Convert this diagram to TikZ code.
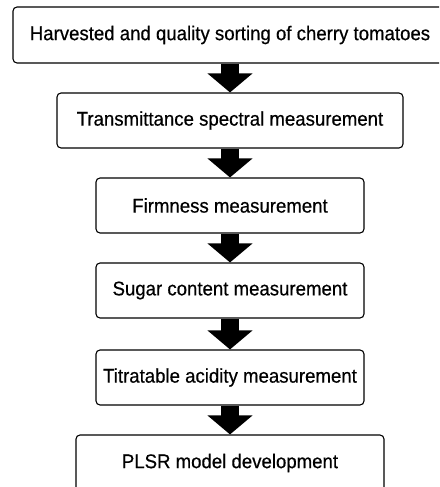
\documentclass[tikz,border=0pt]{standalone}
\usepackage{fontspec}
\setmainfont[FakeStretch=0.94,FakeBold=0.5]{Liberation Sans}
\usetikzlibrary{arrows.meta}
\begin{document}
\begin{tikzpicture}[x=1pt,y=-1pt,
  box/.style={draw, rounded corners=4pt, line width=1.1pt, align=center, inner sep=0pt, font=\fontsize{19.8}{23}\selectfont},
  flow/.style={line width=18pt, -{Triangle[width=44pt,length=19pt]}}]
\useasboundingbox (0,0) rectangle (439,487);
\clip (0,0) rectangle (439,487);
\node[box, minimum width=434pt, minimum height=56pt] (a) at (230,35) {Harvested and quality sorting of cherry tomatoes};
\node[box, minimum width=346pt, minimum height=55pt] (b) at (230,120.5) {Transmittance spectral measurement};
\node[box, minimum width=268pt, minimum height=55pt] (c) at (230,205.5) {Firmness measurement};
\node[box, minimum width=268pt, minimum height=55pt] (d) at (230,290.5) {Sugar content measurement};
\node[box, minimum width=268pt, minimum height=55pt] (e) at (230,377.5) {Titratable acidity measurement};
\node[box, minimum width=308pt, minimum height=56pt] (f) at (230,463) {PLSR model development};
\draw[flow] (a) -- (b);
\draw[flow] (b) -- (c);
\draw[flow] (c) -- (d);
\draw[flow] (d) -- (e);
\draw[flow] (e) -- (f);
\end{tikzpicture}
\end{document}
